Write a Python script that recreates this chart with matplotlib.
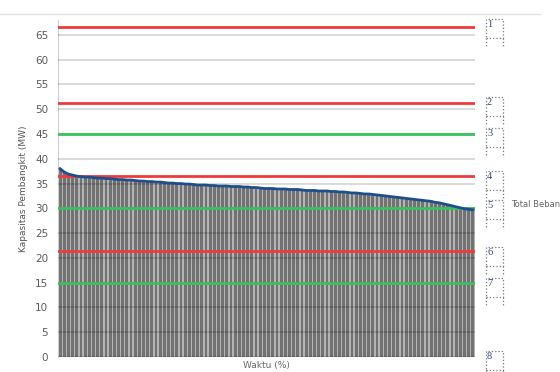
import matplotlib.pyplot as plt
from matplotlib.patches import Rectangle
from matplotlib.lines import Line2D

#=====================================================
# data

waktu = list(range(1, 101))  # Waktu (%)

total_beban = [
    38.0, 37.3, 36.9, 36.7, 36.5, 36.4, 36.3, 36.3, 36.2, 36.1,
    36.1, 36.0, 36.0, 35.9, 35.8, 35.8, 35.7, 35.7, 35.6, 35.5,
    35.5, 35.4, 35.4, 35.3, 35.3, 35.2, 35.1, 35.1, 35.0, 35.0,
    34.9, 34.9, 34.8, 34.7, 34.7, 34.7, 34.6, 34.6, 34.5, 34.5,
    34.5, 34.4, 34.4, 34.4, 34.3, 34.3, 34.2, 34.2, 34.1, 34.0,
    34.0, 34.0, 33.9, 33.9, 33.9, 33.8, 33.8, 33.8, 33.7, 33.6,
    33.6, 33.6, 33.5, 33.5, 33.5, 33.4, 33.4, 33.3, 33.3, 33.2,
    33.1, 33.1, 33.0, 32.9, 32.9, 32.8, 32.7, 32.6, 32.5, 32.4,
    32.3, 32.2, 32.1, 32.0, 31.9, 31.8, 31.7, 31.6, 31.5, 31.4,
    31.2, 31.1, 30.9, 30.7, 30.5, 30.3, 30.1, 29.9, 29.8, 29.7,
]

# capacity levels 1..8 (top to bottom) and their colour group
level_names = ['1', '2', '3', '4', '5', '6', '7', '8']
level_values = [66.5, 51.2, 45.0, 36.5, 30.0, 21.3, 15.0, 0.0]
level_kind = ['red', 'red', 'green', 'red', 'green', 'red', 'green', 'none']

yticks = list(range(0, 70, 5))

#=====================================================

def main():

    fig, ax = setupFigure()
    plotData(ax)
    drawSideLabels(fig)
    fig.savefig('out.png', dpi=100)

    return

#-----------------------------------------------------

def setupFigure():

    fig = plt.figure(figsize=(5.6, 3.72), dpi=100)
    fig.patch.set_facecolor('white')
    # plot area in pixel terms: x 58..475, y 20..357 (of 372)
    ax = fig.add_axes([58/560, 15/372, 417/560, 337/372])
    return fig, ax

#-----------------------------------------------------

def plotData(ax):

    colors = {'red': '#f03a3a', 'green': '#3cbf5e'}

    # light backdrop so the gaps between bars read grey, not white
    ax.bar(waktu, total_beban, width=1.0, color='#b4b4b4', linewidth=0, zorder=1.5)
    ax.bar(waktu, total_beban, width=0.68, color='#727272', linewidth=0, zorder=2)
    ax.plot(waktu, total_beban, color='#1f4e8c', linewidth=2.0, zorder=4)

    for val, kind in zip(level_values, level_kind):
        if kind == 'none':
            continue
        ax.axhline(val, color=colors[kind], linewidth=2.0, zorder=3)

    ax.set_xlim(0.5, 100.5)
    ax.set_ylim(0, 68)
    ax.set_yticks(yticks)
    ax.set_xticks([])
    # translucent grid on top: light grey on white, darker through the bars
    ax.yaxis.grid(True, color='black', alpha=0.17, linewidth=1.2, zorder=2.5)
    ax.set_axisbelow(False)
    for side in ['top', 'right', 'bottom']:
        ax.spines[side].set_visible(False)
    ax.spines['left'].set_color('#d0d0d0')
    ax.tick_params(axis='y', length=0, labelsize=7.5, labelcolor='#5a5a5a', pad=7)

    ax.set_ylabel('Kapasitas Pembangkit (MW)', fontsize=6.5, color='#555555',
                  labelpad=5)
    ax.set_xlabel('Waktu (%)', fontsize=6.5, color='#666666', labelpad=0)
    ax.xaxis.set_label_coords(0.5, -0.012)

    return

#-----------------------------------------------------

def drawSideLabels(fig):

    H = 372.0
    box_tops = [19, 97, 128, 171, 200, 247, 278, 351]
    x0, x1 = 486/560, 503/560
    for name, top in zip(level_names, box_tops):
        yt = 1 - top/H
        ym = 1 - (top + 19)/H
        yb = 1 - (top + 29)/H
        fig.add_artist(Rectangle((x0, ym), x1 - x0, yt - ym, transform=fig.transFigure,
                                 fill=False, edgecolor='#777777', linestyle=':',
                                 linewidth=0.9))
        fig.add_artist(Line2D([x0, x0], [ym, yb], transform=fig.transFigure,
                              color='#777777', linestyle=':', linewidth=0.9))
        fig.add_artist(Line2D([x1, x1], [ym, yb], transform=fig.transFigure,
                              color='#777777', linestyle=':', linewidth=0.9))
        fig.text(x0 + 1/560, yt - 1/H, name, fontsize=7.5, color='#2a4a7a',
                 ha='left', va='top', family='Liberation Serif')

    fig.text(511/560, 1 - 205/H, 'Total Beban', fontsize=6, color='#666666',
             ha='left', va='center')

    # faint scan border along the top
    fig.add_artist(Line2D([0, 540/560], [1 - 14/H, 1 - 14/H], transform=fig.transFigure,
                          color='#e2e2e2', linewidth=1.0))

    return

#=====================================================

if __name__ == '__main__':
    main()
